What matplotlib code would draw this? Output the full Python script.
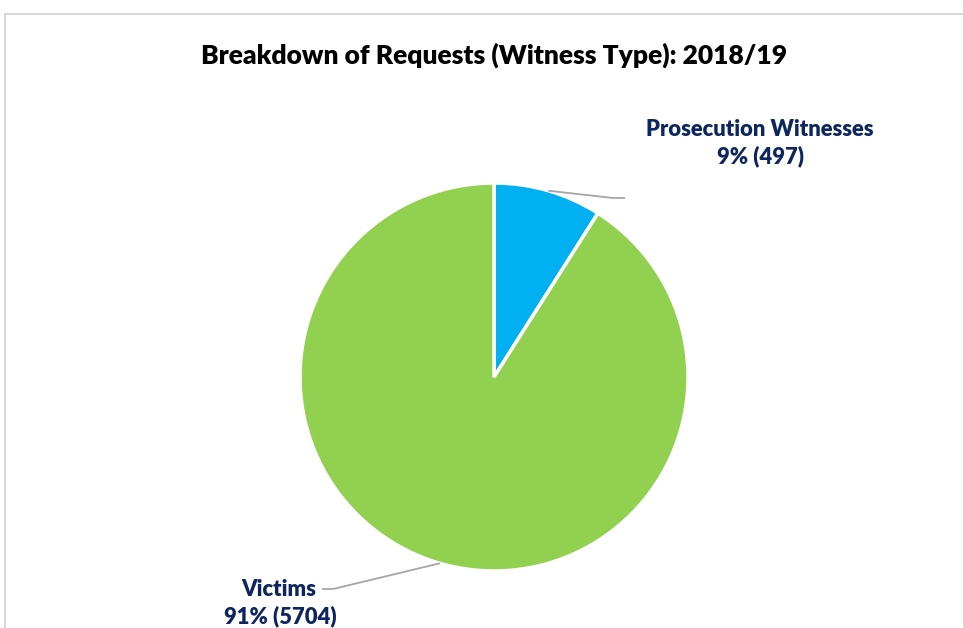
import numpy as np
import matplotlib.pyplot as plt
from matplotlib.lines import Line2D

title = 'Breakdown of Requests (Witness Type): 2018/19'
categories = ['Prosecution Witnesses', 'Victims']
counts = [497, 5704]
shares = [9, 91]        # percentages as shown on the labels
colors = ['#00B0F0', '#92D050']
navy = '#0E2660'

plt.rcParams['font.family'] = ['Lato', 'DejaVu Sans']

W, H = 963, 628
fig = plt.figure(figsize=(W / 100, H / 100), dpi=100)

# pie centre / radius in pixels
cx, cy, r = 494, 377, 194
ax = fig.add_axes([(cx - r) / W, (H - cy - r) / H, 2 * r / W, 2 * r / H])
wedges, _ = ax.pie(shares, colors=colors, startangle=90, counterclock=False,
                   radius=1, wedgeprops=dict(edgecolor='white', linewidth=2.5))
ax.set_xlim(-1, 1)
ax.set_ylim(-1, 1)
ax.set_aspect('equal')
ax.axis('off')

def px(x, y):
    # pixel -> data coords of the pie axes
    return (x - cx) / r, (cy - y) / r

# leader elbows (pixels)
elbows = [((613, 198), (625, 198)), ((333, 589), (322, 589))]
for i, w in enumerate(wedges):
    mid = np.deg2rad((w.theta1 + w.theta2) / 2)
    x0, y0 = np.cos(mid), np.sin(mid)
    (ex, ey), (fx, fy) = elbows[i]
    e = px(ex, ey)
    f = px(fx, fy)
    ax.plot([x0, e[0], f[0]], [y0, e[1], f[1]], color='#A6A6A6', lw=1.3,
            clip_on=False, solid_capstyle='butt')

fs = 15.8
wt = 'heavy'
lab0 = '%s\n%d%% (%d)' % (categories[0], shares[0], counts[0])
fig.text(760 / W, 1 - 143 / H, lab0, ha='center', va='center', fontsize=fs,
         fontweight=wt, color=navy, linespacing=1.3)
fig.text(316 / W, 1 - 589 / H, categories[1], ha='right', va='center',
         fontsize=fs, fontweight=wt, color=navy)
fig.text(280 / W, 1 - 616 / H, '%d%% (%d)' % (shares[1], counts[1]), ha='center',
         va='center', fontsize=fs, fontweight=wt, color=navy)

fig.text(494 / W, 1 - 55 / H, title, ha='center', va='center', fontsize=19,
         fontweight=wt, color='black')

# chart frame lines (top and left)
fig.add_artist(Line2D([5 / W, 1], [1 - 14 / H, 1 - 14 / H], color='#D9D9D9', lw=1.5))
fig.add_artist(Line2D([5 / W, 5 / W], [0, 1 - 14 / H], color='#D9D9D9', lw=1.5))

fig.savefig('out.png', dpi=100)
